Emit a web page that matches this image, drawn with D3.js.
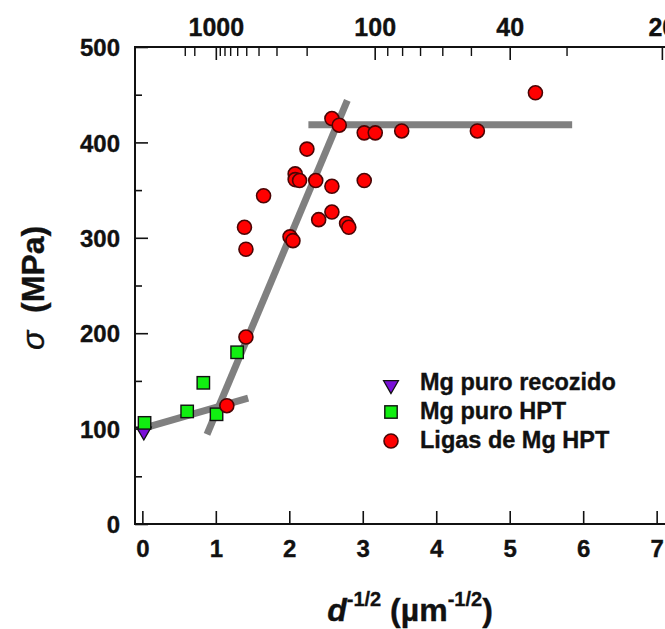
<!DOCTYPE html>
<html>
<head>
<meta charset="utf-8">
<script src="https://cdn.jsdelivr.net/npm/d3@7"></script>
<style>
html,body{margin:0;padding:0;background:#fff;}
text{font-family:Arial,"Liberation Sans",sans-serif;font-weight:bold;fill:#111;stroke:#111;stroke-width:0.35px;}
</style>
</head>
<body>
<svg id="chart" width="665" height="629"></svg>
<script>
// ---- data ----
const annealedX = [0.02];
const annealedY = [97];
const hptX = [0.03, 0.61, 0.83, 1.01, 1.29];
const hptY = [106, 118, 148, 115, 180];
const alloyX = [1.15, 1.41, 1.39, 1.41, 1.65, 2.01, 2.05, 2.08, 2.08, 2.14, 2.24, 2.36, 2.40, 2.58, 2.58, 2.58, 2.68, 2.78, 2.81, 3.02, 3.02, 3.17, 3.53, 4.56, 5.35];
const alloyY = [124, 196, 311, 288, 344, 301, 297, 367, 361, 360, 393, 360, 319, 425, 354, 327, 418, 315, 311, 410, 360, 410, 412, 412, 452];
const fitLowX = [-0.05, 1.44], fitLowY = [99, 132];
const fitSteepX = [0.88, 2.79], fitSteepY = [94, 444];
const fitPlateauX = [2.26, 5.85], fitPlateauY = [418.5, 418.5];
const xTicks = [0, 1, 2, 3, 4, 5, 6, 7];
const yTicks = [0, 100, 200, 300, 400, 500];
const yMinor = [50, 150, 250, 350, 450];
const topMajor = [1000, 100, 40, 20];               // grain size d in nm
const topMinor = [3000, 2000, 900, 800, 700, 600, 500, 400, 300, 200, 90, 80, 70, 60, 50, 30];
const legendLabels = ["Mg puro recozido", "Mg puro HPT", "Ligas de Mg HPT"];

// ---- scales ----
const svg = d3.select("#chart");
const L = 135, R = 664, T = 47, B = 524;
const x = d3.scaleLinear().domain([-0.1, 7.1]).range([L, R]);
const y = d3.scaleLinear().domain([0, 500]).range([B, T]);
const dToX = d => 1 / Math.sqrt(d / 1000);

// ---- frame ----
svg.append("path")
  .attr("d", `M${R + 5},${T}H${L}V${B}H${R + 5}`)
  .attr("fill", "none").attr("stroke", "#111").attr("stroke-width", 2);

// bottom axis (ticks inward)
const gx = svg.append("g").attr("transform", `translate(0,${B})`)
  .call(d3.axisBottom(x).tickValues(xTicks).tickSize(-13).tickFormat(d3.format("d")));
gx.select(".domain").remove();
gx.selectAll("line").attr("stroke", "#111").attr("stroke-width", 1.6);
gx.selectAll("text").attr("font-size", 24).attr("dy", null).attr("y", 33);

// left axis
const gy = svg.append("g").attr("transform", `translate(${L},0)`)
  .call(d3.axisLeft(y).tickValues(yTicks).tickSize(-13).tickFormat(d3.format("d")));
gy.select(".domain").remove();
gy.selectAll("line").attr("stroke", "#111").attr("stroke-width", 1.6);
gy.selectAll("text").attr("font-size", 24).attr("x", -15).attr("dy", "0.36em");
const gyMin = svg.append("g").attr("transform", `translate(${L},0)`)
  .call(d3.axisLeft(y).tickValues(yMinor).tickSize(-7).tickFormat(""));
gyMin.select(".domain").remove();
gyMin.selectAll("line").attr("stroke", "#111").attr("stroke-width", 1.6);

// top axis (grain size, nm)
const gt = svg.append("g").attr("transform", `translate(0,${T})`)
  .call(d3.axisTop(x).tickValues(topMajor.map(dToX)).tickSize(-13)
    .tickFormat((v, i) => topMajor[i]));
gt.select(".domain").remove();
gt.selectAll("line").attr("stroke", "#111").attr("stroke-width", 1.6);
gt.selectAll("text").attr("font-size", 25).attr("y", -11).attr("dy", null);
const gtMin = svg.append("g").attr("transform", `translate(0,${T})`)
  .call(d3.axisTop(x).tickValues(topMinor.map(dToX)).tickSize(-9).tickFormat(""));
gtMin.select(".domain").remove();
gtMin.selectAll("line").attr("stroke", "#111").attr("stroke-width", 1.4);

// ---- fit lines ----
const line = d3.line().x(d => x(d[0])).y(d => y(d[1]));
[[fitLowX, fitLowY], [fitSteepX, fitSteepY], [fitPlateauX, fitPlateauY]].forEach(([xs, ys]) => {
  svg.append("path").attr("d", line(d3.zip(xs, ys)))
    .attr("fill", "none").attr("stroke", "#808080").attr("stroke-width", 7);
});

// ---- markers ----
const triPath = d3.symbol().type(d3.symbolTriangle).size(95);
function triangle(g, cx, cy) {
  g.append("path").attr("d", triPath())
    .attr("transform", `translate(${cx},${cy}) rotate(180)`)
    .attr("fill", "#7a10d8").attr("stroke", "#111").attr("stroke-width", 1.3);
}
function square(g, cx, cy) {
  g.append("rect").attr("x", cx - 6.2).attr("y", cy - 6.2).attr("width", 12.4).attr("height", 12.4)
    .attr("fill", "#11ee11").attr("stroke", "#111").attr("stroke-width", 1.4);
}
function circle(g, cx, cy) {
  g.append("circle").attr("cx", cx).attr("cy", cy).attr("r", 7)
    .attr("fill", "#ff0000").attr("stroke", "#4a0505").attr("stroke-width", 1.6);
}
const gm = svg.append("g");
annealedX.forEach((v, i) => triangle(gm, x(v), y(annealedY[i])));
hptX.forEach((v, i) => square(gm, x(v), y(hptY[i])));
alloyX.forEach((v, i) => circle(gm, x(alloyX[i]), y(alloyY[i])));

// ---- legend ----
const lg = svg.append("g");
const legY = [383, 412, 441];
triangle(lg, 391, legY[0] + 2);
square(lg, 391, legY[1]);
circle(lg, 391, legY[2]);
legendLabels.forEach((t, i) => {
  lg.append("text").attr("x", 420).attr("y", legY[i] + 7).attr("font-size", 23.5).text(t);
});

// ---- axis titles ----
const yl = svg.append("text")
  .attr("transform", "translate(44,288) rotate(-90)")
  .attr("text-anchor", "middle").attr("font-size", 32);
yl.append("tspan").attr("font-style", "italic").attr("font-weight", "normal").text("σ");
yl.append("tspan").text("\u00a0\u00a0(MPa)");

const xl = svg.append("text")
  .attr("x", 410).attr("y", 621).attr("text-anchor", "middle").attr("font-size", 32);
xl.append("tspan").attr("font-style", "italic").text("d");
xl.append("tspan").attr("font-size", 20).attr("dy", -15).text("-1/2");
xl.append("tspan").attr("dy", 15).text(" (\u00b5m");
xl.append("tspan").attr("font-size", 20).attr("dy", -15).text("-1/2");
xl.append("tspan").attr("dy", 15).text(")");
</script>
</body>
</html>
